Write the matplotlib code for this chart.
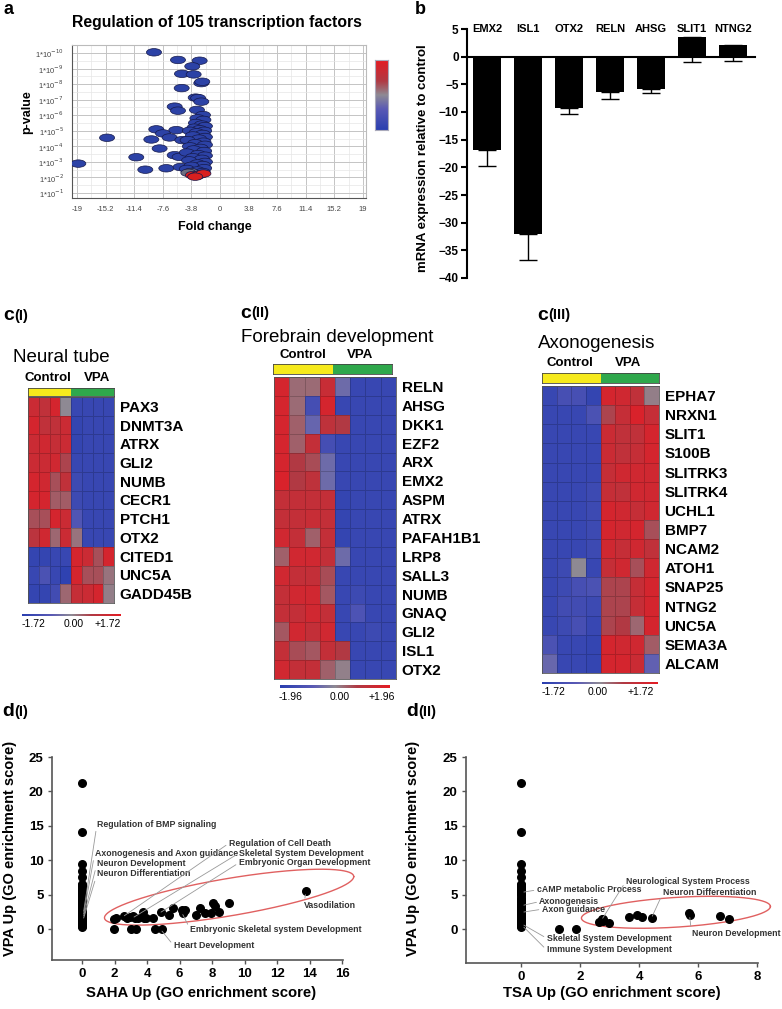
import numpy as np
import matplotlib.pyplot as plt
from matplotlib.colors import LinearSegmentedColormap, ListedColormap
from matplotlib.patches import Ellipse

plt.rcParams['font.family'] = ['Liberation Sans', 'DejaVu Sans']

# ---------------- data ----------------
# a: volcano plot of 105 transcription factors (fold change, -log10 p)
a_fold = [-8.77, -5.58, -2.70, -3.68, -5.05, -3.50, -2.48, -2.35, -5.09, -3.23, -2.90, -2.48,
          -6.02, -5.58, -3.06, -2.26, -8.46, -7.57, -6.69, -15.0, -9.12, -8.02, -6.02, -5.36,
          -11.12, -18.82, -9.92, -7.13, -5.23, -5.80, -5.00,
          -3.0, -2.2, -3.2, -2.4, -2.0, -3.4, -2.7, -2.1, -4.0, -3.1, -2.3, -3.6, -2.0, -2.8,
          -4.3, -2.2, -3.3, -2.0, -4.0, -2.6, -3.5, -2.1, -4.4, -2.9, -2.0, -3.6, -2.4, -4.1,
          -2.0, -3.0, -2.3, -3.8, -2.1, -4.4, -3.0, -2.3,
          -3.9, -4.2, -3.6, -3.1, -2.6, -2.2, -3.3]
a_logp = [10.04, 9.55, 9.50, 9.14, 8.66, 8.62, 8.06, 8.15, 7.74, 7.13, 7.10, 6.87,
          6.55, 6.29, 6.34, 6.01, 5.09, 4.83, 4.57, 4.55, 4.44, 3.86, 3.43, 3.32,
          3.30, 2.89, 2.50, 2.59, 2.67, 5.04, 4.40,
          5.8, 5.7, 5.5, 5.4, 5.3, 5.2, 5.1, 5.0, 5.0, 4.9, 4.8, 4.7, 4.6, 4.5,
          4.4, 4.3, 4.2, 4.1, 4.0, 3.9, 3.8, 3.7, 3.6, 3.5, 3.4, 3.3, 3.2, 3.1,
          3.0, 2.9, 2.8, 2.75, 2.6, 2.55, 2.45, 2.35,
          2.35, 2.30, 2.15, 2.10, 2.20, 2.25, 2.05]
a_reg = ['d'] * 67 + ['n'] * 2 + ['u'] * 5
a_xticks = [-19, -15.2, -11.4, -7.6, -3.8, 0, 3.8, 7.6, 11.4, 15.2, 19]
a_yticks = list(range(1, 11))

# b: qPCR
b_genes = ['EMX2', 'ISL1', 'OTX2', 'RELN', 'AHSG', 'SLIT1', 'NTNG2']
b_expr = [-16.8, -32.0, -9.3, -6.3, -5.8, 3.6, 2.1]
b_err = [2.9, 4.8, 1.0, 1.3, 0.8, 4.5, 2.9]

# c: heatmaps (4 control, 4 VPA)
groups = ['Control'] * 4 + ['VPA'] * 4

c1_genes = ['PAX3', 'DNMT3A', 'ATRX', 'GLI2', 'NUMB', 'CECR1', 'PTCH1', 'OTX2',
            'CITED1', 'UNC5A', 'GADD45B']
c1_vals = [
    [1.2, 1.0, 1.4, 0.0, -1.4, -1.4, -1.4, -1.4],
    [1.4, 1.0, 1.0, 1.2, -1.5, -1.4, -1.4, -1.4],
    [1.2, 1.3, 1.1, 1.2, -1.5, -1.4, -1.4, -1.4],
    [1.2, 1.2, 1.3, 0.6, -1.4, -1.4, -1.4, -1.4],
    [1.4, 1.3, 0.5, 1.0, -1.3, -1.4, -1.4, -1.4],
    [1.4, 1.4, 0.4, 0.4, -1.3, -1.4, -1.4, -1.4],
    [0.5, 0.5, 1.4, 1.2, -0.9, -1.4, -1.4, -1.4],
    [0.9, 1.3, 0.3, 1.2, 0.2, -1.4, -1.4, -1.4],
    [-1.5, -1.5, -1.4, -1.4, 1.4, 1.2, 0.5, 1.4],
    [-1.4, -1.0, -1.4, -1.6, 1.4, 0.5, 0.5, 0.2],
    [-1.5, -1.5, -1.2, 0.3, 1.1, 1.2, 1.4, 0.1],
]

c2_genes = ['RELN', 'AHSG', 'DKK1', 'EZF2', 'ARX', 'EMX2', 'ASPM', 'ATRX', 'PAFAH1B1',
            'LRP8', 'SALL3', 'NUMB', 'GNAQ', 'GLI2', 'ISL1', 'OTX2']
c2_vals = [
    [1.6, 0.3, 0.3, 1.3, -0.5, -1.6, -1.6, -1.6],
    [1.6, 0.3, -1.3, 1.6, -1.6, -1.6, -1.6, -1.6],
    [1.6, 0.4, -0.6, 1.1, 0.8, -1.6, -1.6, -1.6],
    [1.6, 0.4, 1.2, -1.3, -1.6, -1.6, -1.6, -1.6],
    [1.6, 0.8, 0.6, -0.5, -1.6, -1.6, -1.6, -1.6],
    [1.7, 0.8, 1.1, -0.5, -1.6, -1.6, -1.6, -1.6],
    [1.2, 1.2, 1.2, 1.2, -1.7, -1.6, -1.6, -1.6],
    [1.2, 1.2, 1.3, 1.2, -1.7, -1.6, -1.6, -1.6],
    [1.5, 1.2, 0.4, 1.2, -1.7, -1.6, -1.6, -1.6],
    [0.4, 1.5, 1.5, 1.2, -0.5, -1.6, -1.6, -1.6],
    [1.5, 1.2, 1.2, 0.6, -1.6, -1.6, -1.6, -1.6],
    [1.2, 1.5, 1.5, 0.5, -1.6, -1.5, -1.6, -1.6],
    [1.2, 1.2, 1.5, 1.2, -1.6, -1.1, -1.6, -1.6],
    [0.5, 1.5, 1.2, 1.5, -1.6, -1.6, -1.5, -1.6],
    [1.2, 0.6, 0.5, 1.2, 0.8, -1.6, -1.6, -1.6],
    [1.5, 1.2, 1.2, 0.4, 0.1, -1.6, -1.6, -1.6],
]

c3_genes = ['EPHA7', 'NRXN1', 'SLIT1', 'S100B', 'SLITRK3', 'SLITRK4', 'UCHL1', 'BMP7',
            'NCAM2', 'ATOH1', 'SNAP25', 'NTNG2', 'UNC5A', 'SEMA3A', 'ALCAM']
c3_vals = [
    [-1.4, -1.1, -1.1, -1.5, 1.4, 1.3, 1.0, 0.1],
    [-1.4, -1.4, -1.4, -1.0, 0.6, 1.1, 1.5, 1.1],
    [-1.4, -1.4, -1.4, -1.4, 1.2, 1.0, 1.0, 1.4],
    [-1.4, -1.4, -1.4, -1.4, 1.2, 1.0, 1.1, 1.4],
    [-1.4, -1.4, -1.4, -1.4, 1.1, 1.3, 1.3, 1.3],
    [-1.4, -1.4, -1.4, -1.3, 1.1, 1.0, 1.3, 1.3],
    [-1.4, -1.4, -1.4, -1.3, 1.4, 1.3, 1.1, 1.3],
    [-1.4, -1.4, -1.4, -1.3, 1.4, 1.3, 1.4, 0.5],
    [-1.4, -1.4, -1.4, -1.3, 1.3, 1.1, 1.3, 1.0],
    [-1.4, -1.3, 0.0, -1.4, 1.1, 1.3, 0.5, 1.3],
    [-1.4, -1.3, -1.1, -1.0, 0.6, 0.6, 1.1, 1.4],
    [-1.4, -1.2, -1.2, -1.3, 0.6, 0.6, 1.1, 1.4],
    [-1.4, -1.3, -1.1, -1.4, 0.6, 0.7, 0.3, 1.4],
    [-1.0, -1.4, -1.4, -1.5, 1.4, 1.3, 1.3, 0.4],
    [-0.5, -1.4, -1.4, -1.5, 1.4, 1.4, 1.2, -0.6],
]

# d: GO enrichment scores
d_col_vpa = [21.2, 14.1, 9.4, 8.5, 7.6, 6.6, 6.4, 6.2, 6.0, 5.8, 5.5, 5.3, 5.1, 4.9, 4.6,
             4.4, 4.2, 3.9, 3.7, 3.5, 3.3, 3.1, 2.8, 2.6, 2.4, 2.2, 2.0, 1.8, 1.6, 1.4,
             1.2, 1.0, 0.8, 0.6, 0.45, 0.3]
d1_saha = [1.99, 2.11, 1.99, 2.60, 2.77, 2.97, 3.14, 3.28, 3.45, 3.75, 3.79, 3.96, 4.37,
           3.04, 3.34, 4.51, 4.92, 4.86, 5.35, 5.62, 6.15, 6.21, 6.32, 7.02, 7.24, 7.59,
           7.96, 8.06, 8.20, 8.41, 9.03, 13.8]
d1_vpa = [1.45, 1.64, 0, 1.93, 1.54, 1.74, 1.93, 1.64, 1.54, 2.51, 1.54, 1.54, 1.64,
          0, 0, 0, 0, 2.46, 1.98, 2.99, 2.80, 2.27, 2.80, 2.03, 2.99, 2.32,
          2.32, 3.76, 3.38, 2.46, 3.76, 5.50]
d2_tsa = [1.30, 1.88, 2.65, 2.73, 2.79, 2.77, 2.99, 3.67, 3.94, 4.09, 4.45, 5.70, 5.74, 6.74, 7.05]
d2_vpa = [0, 0, 1.00, 1.45, 1.54, 1.25, 0.87, 1.74, 2.08, 1.83, 1.69, 2.32, 2.08, 1.98, 1.54]

d1_terms = ['Regulation of BMP signaling', 'Axonogenesis and Axon guidance', 'Neuron Development',
            'Neuron Differentiation', 'Regulation of Cell Death', 'Skeletal System Development',
            'Embryonic Organ Development', 'Vasodilation', 'Embryonic Skeletal system Development',
            'Heart Development']
d1_term_pts = [(0.1, 2.6), (0.1, 2.2), (0.1, 1.9), (0.1, 1.6), (2.6, 1.93), (3.2, 1.74),
               (4.86, 2.46), (13.75, 5.0), (6.2, 2.1), (4.92, -0.3)]
d2_terms = ['cAMP metabolic Process', 'Axonogenesis', 'Axon guidance', 'Skeletal System Development',
            'Immune System Development', 'Neurological System Process', 'Neuron Differentiation',
            'Neuron Development']
d2_term_pts = [(0.1, 5.4), (0.1, 3.5), (0.1, 2.5), (0.1, 0.6), (0.1, 0.3), (2.77, 1.6),
               (4.45, 1.9), (5.72, 1.7)]

# ---------------- layout helpers ----------------
W, H = 782, 1009
fig = plt.figure(figsize=(W / 100, H / 100), dpi=100)


def px_axes(l, t, r, b):
    return fig.add_axes([l / W, 1 - b / H, (r - l) / W, (b - t) / H])


def px_text(x, y, s, **kw):
    kw.setdefault('va', 'center')
    fig.text(x / W, 1 - y / H, s, **kw)


def panel_label(x, y, big, small, gap):
    px_text(x, y, big, fontsize=14, fontweight='bold', ha='left')
    px_text(x + gap, y, small, fontsize=10.5, fontweight='bold', ha='left')


heat_cmap = LinearSegmentedColormap.from_list(
    'hm', [(0, '#2a3fb0'), (0.3, '#5a5ab5'), (0.5, '#8e8a94'), (0.7, '#b03a44'), (1, '#e41c24')])

# ---------------- a ----------------
px_text(3, 10, 'a', fontsize=13, fontweight='bold', ha='left')
px_text(217, 23, 'Regulation of 105 transcription factors', fontsize=11.3, fontweight='bold', ha='center')
ax = px_axes(72, 45, 366, 198)
a_colors = {'d': '#2c42a6', 'n': '#6c6f80', 'u': '#d81f1f'}
for x, y, r in zip(a_fold, a_logp, a_reg):
    ax.add_patch(Ellipse((x, y), 2.0, 0.48, facecolor=a_colors[r], edgecolor='#15194a',
                         lw=0.5, zorder=3))
ax.set_xlim(-19.66, 19.4)
ax.set_ylim(0.68, 10.51)
ax.set_xticks(a_xticks)
ax.set_xticklabels([f'{t:g}' for t in a_xticks])
ax.set_xticks([t + 1.9 for t in a_xticks[:-1]], minor=True)
ax.set_yticks(a_yticks)
ax.set_yticklabels([r'1*10$^{-%d}$' % t for t in a_yticks])
ax.set_yticks([t + 0.5 for t in a_yticks[:-1]], minor=True)
ax.grid(which='major', color='#c4c4c4', lw=0.7)
ax.grid(which='minor', color='#e6e6e6', lw=0.5)
ax.set_axisbelow(True)
ax.tick_params(which='both', length=0, labelsize=5.5, labelcolor='#444', pad=6)
for s in ax.spines.values():
    s.set_color('#bbbbbb')
ax.spines['left'].set_color('#555')
ax.spines['bottom'].set_color('#555')
px_text(27, 112, 'p-value', fontsize=9, fontweight='bold', rotation=90, ha='center')
px_text(215, 227, 'Fold change', fontsize=9, fontweight='bold', ha='center')

cax = px_axes(375, 60, 388, 130)
cax.imshow(np.linspace(1, -1, 200)[:, None], aspect='auto', cmap=heat_cmap)
cax.set_xticks([])
cax.set_yticks([])
for s in cax.spines.values():
    s.set_color('#aab')

# ---------------- b ----------------
px_text(415, 9, 'b', fontsize=13, fontweight='bold', ha='left')
bx = px_axes(467, 29, 755, 278)
pos = np.arange(len(b_genes))
bx.bar(pos, b_expr, width=0.68, color='black', zorder=3,
       yerr=[b_err, np.zeros(len(b_err))], capsize=6.5,
       error_kw=dict(ecolor='black', lw=1, capthick=1, zorder=2))
bx.set_xlim(-0.49, 6.54)
bx.set_ylim(-40, 5)
bx.set_yticks(np.arange(-40, 6, 5))
bx.set_xticks([])
for sp in ['top', 'right']:
    bx.spines[sp].set_visible(False)
bx.spines['bottom'].set_position(('data', 0))
bx.spines['bottom'].set_linewidth(1.5)
bx.spines['left'].set_linewidth(1.5)
bx.tick_params(axis='y', length=4, width=1.5, labelsize=8.5, pad=2)
for lab in bx.get_yticklabels():
    lab.set_fontweight('bold')
for p, g in zip(pos, b_genes):
    bx.text(p, 5, g, ha='center', va='center', fontsize=8, fontweight='bold')
px_text(423, 158, 'mRNA expression relative to control', fontsize=9.5, fontweight='bold',
        rotation=90, ha='center')

# ---------------- c ----------------
group_codes = [0 if g == 'Control' else 1 for g in groups]


def draw_heat(vals, genes, box, strip, vmax):
    hx = px_axes(*box)
    hx.pcolormesh(np.array(vals), cmap=heat_cmap, vmin=-vmax, vmax=vmax,
                  edgecolors=(0, 0, 0, 0.18), linewidth=0.4)
    hx.set_xlim(0, len(vals[0]))
    hx.set_ylim(len(genes), 0)
    hx.set_xticks([])
    hx.set_yticks(np.arange(len(genes)) + 0.5)
    hx.set_yticklabels(genes, fontsize=11, fontweight='bold')
    hx.yaxis.tick_right()
    hx.tick_params(axis='y', length=0, pad=4)
    for s in hx.spines.values():
        s.set_color('#555')
        s.set_linewidth(0.6)
    sx = px_axes(*strip)
    sx.pcolormesh(np.array([group_codes]), cmap=ListedColormap(['#f6ea1c', '#2fa84c']))
    sx.set_xticks([])
    sx.set_yticks([])
    for s in sx.spines.values():
        s.set_color('#444')
        s.set_linewidth(0.6)


def draw_scale(box, labels, label_y, label_x):
    gx = px_axes(*box)
    gx.imshow(np.linspace(-1, 1, 256)[None, :], aspect='auto', cmap=heat_cmap)
    gx.axis('off')
    for x, t in zip(label_x, labels):
        px_text(x, label_y, t, fontsize=7.5, ha='center')


# c(I)
panel_label(3, 316, 'c', '(I)', 11)
px_text(13, 357, 'Neural tube', fontsize=13.5, ha='left')
px_text(48, 378, 'Control', fontsize=9.5, fontweight='bold', ha='center')
px_text(97, 378, 'VPA', fontsize=9.5, fontweight='bold', ha='center')
draw_heat(c1_vals, c1_genes, (28, 397, 114, 603), (28, 388, 114, 396), 1.72)
draw_scale((22, 614, 121, 616.5), ['-1.72', '0.00', '+1.72'], 624, [33, 74, 108])

# c(II)
panel_label(240, 313, 'c', '(II)', 11)
px_text(241, 338, 'Forebrain development', fontsize=13.5, ha='left')
px_text(303, 355, 'Control', fontsize=9.5, fontweight='bold', ha='center')
px_text(360, 355, 'VPA', fontsize=9.5, fontweight='bold', ha='center')
draw_heat(c2_vals, c2_genes, (274, 377, 396, 679), (273, 364, 392, 374), 1.96)
draw_scale((280, 685, 390, 687.5), ['-1.96', '0.00', '+1.96'], 697, [290, 340, 382])

# c(III)
panel_label(537, 315, 'c', '(III)', 11)
px_text(538, 343, 'Axonogenesis', fontsize=13.5, ha='left')
px_text(570, 363, 'Control', fontsize=9.5, fontweight='bold', ha='center')
px_text(628, 363, 'VPA', fontsize=9.5, fontweight='bold', ha='center')
draw_heat(c3_vals, c3_genes, (542, 386, 659, 673), (542, 373, 659, 383), 1.72)
draw_scale((542, 682, 657, 684.5), ['-1.72', '0.00', '+1.72'], 692, [553, 598, 641])


# ---------------- d ----------------
def go_axes(box, xlim, ylim, xticks):
    gx = px_axes(*box)
    gx.set_xlim(*xlim)
    gx.set_ylim(*ylim)
    gx.set_xticks(xticks)
    gx.set_yticks(np.arange(0, 26, 5))
    for sp in ['top', 'right']:
        gx.spines[sp].set_visible(False)
    for sp in ['left', 'bottom']:
        gx.spines[sp].set_color('#555')
        gx.spines[sp].set_linewidth(1.2)
    gx.tick_params(length=3, width=1, color='#555', labelsize=9.5, pad=3)
    for lab in gx.get_xticklabels() + gx.get_yticklabels():
        lab.set_fontweight('bold')
    return gx


def ring(gx, c, a, b):
    t = np.linspace(0, 2 * np.pi, 300)
    gx.plot(c[0] + a[0] * np.cos(t) + b[0] * np.sin(t),
            c[1] + a[1] * np.cos(t) + b[1] * np.sin(t),
            color='#e06060', lw=1, clip_on=False)


def notes(gx, terms, pts, text_pos):
    for term, p, tp in zip(terms, pts, text_pos):
        gx.annotate(term, xy=p, xytext=tp, ha='left', va='center', fontsize=6.3,
                    fontweight='bold', color='#333', annotation_clip=False,
                    arrowprops=dict(arrowstyle='-', color='#999', lw=0.6,
                                    relpos=(0, 0.5), shrinkA=0, shrinkB=0))


# d(I)
panel_label(2, 712, 'd', '(I)', 12)
g1 = go_axes((52, 757, 343, 960), (-1.85, 16.06), (-4.5, 25), np.arange(0, 17, 2))
g1.scatter(np.zeros(len(d_col_vpa)), d_col_vpa, s=30, color='black', zorder=3, clip_on=False)
g1.scatter(d1_saha, d1_vpa, s=30, color='black', zorder=3, clip_on=False)
ring(g1, (9.05, 4.63), (7.67, 2.99), (0, 2.75))
notes(g1, d1_terms, d1_term_pts,
      [(0.92, 15.25), (0.78, 11.0), (0.92, 9.55), (0.92, 8.0), (9.03, 12.45), (9.64, 11.0),
       (9.64, 9.6), (13.64, 3.43), (6.67, -0.1), (5.64, -2.4)])
px_text(201, 993, 'SAHA Up (GO enrichment score)', fontsize=10.7, fontweight='bold', ha='center')
px_text(10, 848, 'VPA Up (GO enrichment score)', fontsize=10.5, fontweight='bold',
        rotation=90, ha='center')

# d(II)
panel_label(406, 712, 'd', '(II)', 12)
g2 = go_axes((466, 757, 758, 963), (-1.86, 8.03), (-4.9, 25), np.arange(0, 9, 2))
g2.scatter(np.zeros(len(d_col_vpa)), d_col_vpa, s=30, color='black', zorder=3, clip_on=False)
g2.scatter(d2_tsa, d2_vpa, s=30, color='black', zorder=3, clip_on=False)
ring(g2, (5.25, 2.46), (3.2, 0.845), (0, 2.16))
notes(g2, d2_terms, d2_term_pts,
      [(0.53, 5.7), (0.62, 4.0), (0.7, 2.9), (0.87, -1.3), (0.87, -3.0), (3.56, 7.0),
       (4.82, 5.36), (5.78, -0.58)])
px_text(612, 993, 'TSA Up (GO enrichment score)', fontsize=10.7, fontweight='bold', ha='center')
px_text(413, 848, 'VPA Up (GO enrichment score)', fontsize=10.5, fontweight='bold',
        rotation=90, ha='center')

fig.savefig('out.png', dpi=100)
